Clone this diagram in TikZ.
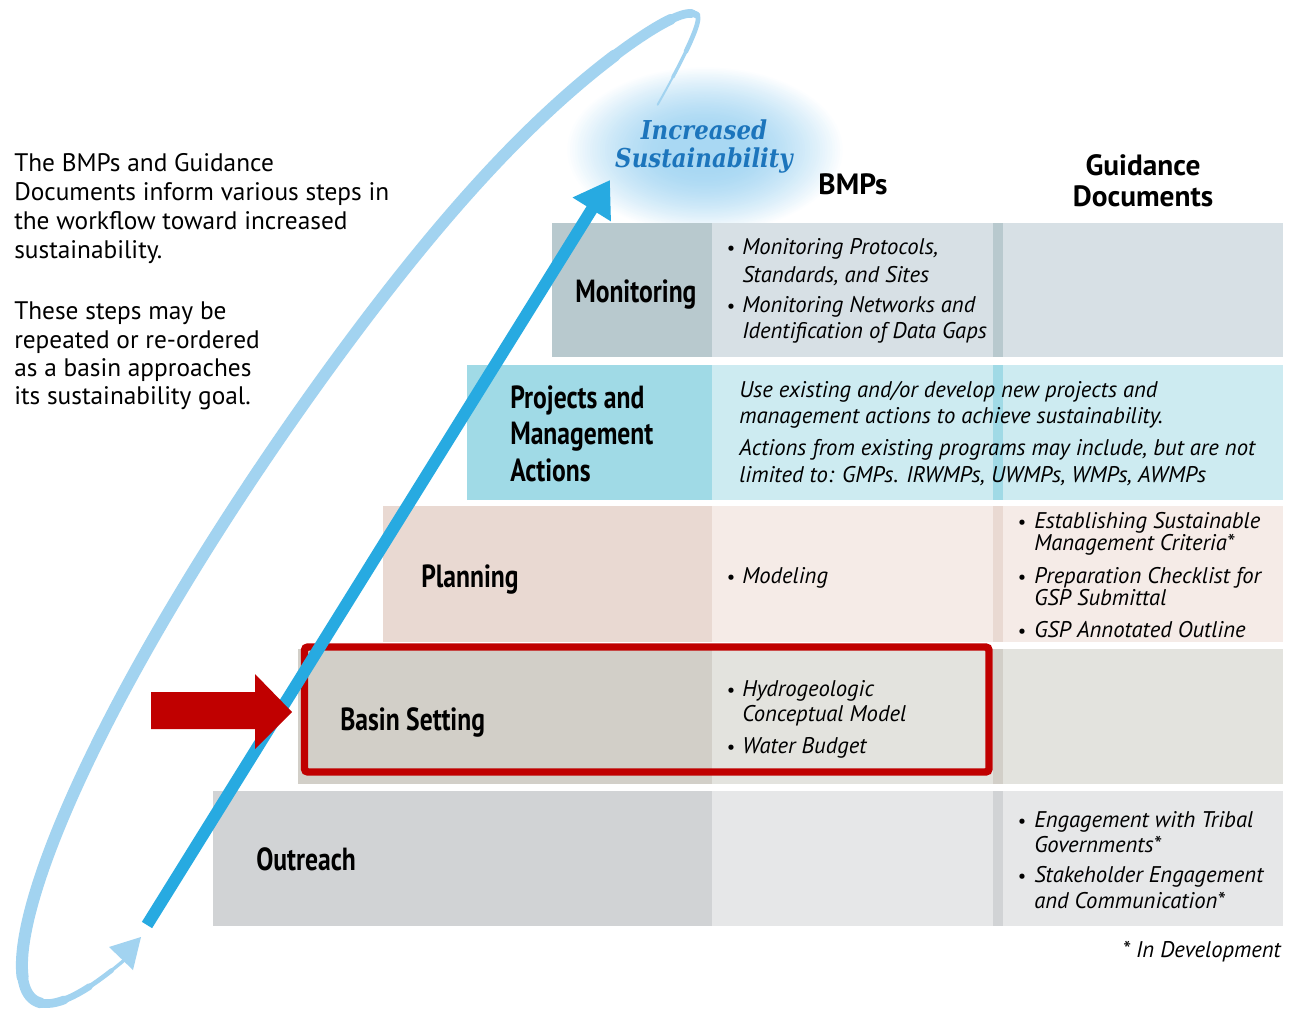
\documentclass[tikz,border=0pt]{standalone}
\usepackage{fontspec}
\setmainfont{PT Sans}
\newfontfamily\condfont[FakeStretch=0.8]{PT Sans}
\newfontfamily\titlefont[FakeStretch=0.88]{DejaVu Serif}
\usetikzlibrary{arrows.meta}
\definecolor{loopc}{HTML}{A2D3F0}
\definecolor{arrowc}{HTML}{27AAE1}
\definecolor{glowc}{HTML}{A9D8F3}
\definecolor{redc}{HTML}{C00000}
\definecolor{titlec}{HTML}{1C75BC}
\definecolor{monL}{HTML}{B8C9CE}
\definecolor{monR}{HTML}{D7E0E5}
\definecolor{proL}{HTML}{A0DAE6}
\definecolor{proR}{HTML}{CDEBF1}
\definecolor{plaL}{HTML}{E9D9D2}
\definecolor{plaR}{HTML}{F5EBE7}
\definecolor{basL}{HTML}{D2CFC8}
\definecolor{basR}{HTML}{E3E3DE}
\definecolor{outL}{HTML}{D1D3D5}
\definecolor{outR}{HTML}{E6E7E8}
\begin{document}
\begin{tikzpicture}[x=0.75pt,y=-0.75pt,
  declare function={
    cpos(\t)=max(cos(\t),0);
    cneg(\t)=max(-cos(\t),0);
    bleft(\t)=106*(1-0.3*cpos(\t)*cpos(\t)*cpos(\t)*cpos(\t)*cpos(\t));
    loopx(\t)=361+596*cos(\t)*0.5637+bleft(\t)*sin(\t)*0.8262+9*cneg(\t)*cneg(\t)*cneg(\t);
    loopy(\t)=507.6-596*cos(\t)*0.8262+bleft(\t)*sin(\t)*0.5637;
    topx(\t)=361+596*cos(\t)*0.5637+33*sin(\t)*0.8262;
    topy(\t)=507.6-596*cos(\t)*0.8262+33*sin(\t)*0.5637;},
  para/.style={anchor=base west, inner sep=0pt, font=\fontsize{19}{23}\selectfont},
  cell/.style={anchor=base west, inner sep=0pt, font=\fontsize{17}{20}\selectfont\itshape},
  bul/.style={anchor=base, inner sep=0pt, font=\fontsize{14}{18}\selectfont},
  lab/.style={anchor=base west, inner sep=0pt, font=\condfont\bfseries\fontsize{24}{28}\selectfont},
  hdr/.style={anchor=base, inner sep=0pt, font=\bfseries\fontsize{22}{26}\selectfont},
  ttl/.style={anchor=base, inner sep=0pt, text=titlec, font=\titlefont\bfseries\itshape\fontsize{19.5}{23}\selectfont},
  loopline/.style={draw=loopc, line cap=round, line join=round}]
\useasboundingbox (0,0) rectangle (1295,1009);
\fill[white] (0,0) rectangle (1295,1009);
% glow
\foreach \k in {40,39,...,0}{
  \pgfmathsetmacro\tt{\k/40}
  \pgfmathtruncatemacro\pc{100*(1-\tt*sqrt(\tt))}
  \fill[glowc!\pc!white] (705,150) ellipse [x radius={40+100*\tt}, y radius={22+62*\tt}];
}
% loop: elliptical return path, tapered by stacked strokes
\path[loopline, line width=2.5pt] plot[domain=148:360, samples=120, variable=\t] ({loopx(\t)},{loopy(\t)});
\path[loopline, line width=1.5pt] plot[domain=360:393, samples=30, variable=\t] ({topx(\t)},{topy(\t)});
\path[loopline, line width=3.5pt] plot[domain=152:360, samples=120, variable=\t] ({loopx(\t)},{loopy(\t)});
\path[loopline, line width=2.5pt] plot[domain=360:387, samples=30, variable=\t] ({topx(\t)},{topy(\t)});
\path[loopline, line width=5pt] plot[domain=158:360, samples=120, variable=\t] ({loopx(\t)},{loopy(\t)});
\path[loopline, line width=3.5pt] plot[domain=360:380, samples=30, variable=\t] ({topx(\t)},{topy(\t)});
\path[loopline, line width=6.5pt] plot[domain=166:356, samples=120, variable=\t] ({loopx(\t)},{loopy(\t)});
\path[loopline, line width=8pt] plot[domain=176:346, samples=120, variable=\t] ({loopx(\t)},{loopy(\t)});
\path[loopline, line width=9pt] plot[domain=192:330, samples=120, variable=\t] ({loopx(\t)},{loopy(\t)});
\fill[loopc] (109,947) -- (141,937) -- (133,970) -- cycle;
% rows
\fill[monL] (552,223) rectangle (712,357);
\fill[monR] (712,223) rectangle (1283,357);
\fill[monL] (993,223) rectangle (1003,357);
\fill[proL] (467,365) rectangle (712,500);
\fill[proR] (712,365) rectangle (1283,500);
\fill[proL] (993,365) rectangle (1003,500);
\fill[plaL] (383,506) rectangle (712,642);
\fill[plaR] (712,506) rectangle (1283,642);
\fill[plaL] (993,506) rectangle (1003,642);
\fill[basL] (298,649) rectangle (712,784);
\fill[basR] (712,649) rectangle (1283,784);
\fill[basL] (993,649) rectangle (1003,784);
\fill[outL] (213,791) rectangle (712,926);
\fill[outR] (712,791) rectangle (1283,926);
\fill[outL] (993,791) rectangle (1003,926);
% red box
\draw[redc, line width=5.6pt, rounded corners=2.5pt] (304.5,647) rectangle (989,772);
% blue arrow
\coordinate (up0) at (147,925);
\coordinate (up1) at (610,180);
\draw[arrowc, line width=9pt, -{Triangle[length=26pt,width=32pt]}] (up0) -- (up1);
% red arrow
\fill[redc] (151,692) -- (255,692) -- (255,674) -- (292,712) -- (255,749) -- (255,729) -- (151,729) -- cycle;
% left text
\node[para] (p1) at (14,172) {The BMPs and Guidance};
\node[para] (p2) at (14,201) {Documents inform various steps in};
\node[para] (p3) at (14,230) {the workflow toward increased};
\node[para] (p4) at (14,258) {sustainability.};
\node[para] (p5) at (14,320) {These steps may be};
\node[para] (p6) at (14,348) {repeated or re-ordered};
\node[para] (p7) at (14,376) {as a basin approaches};
\node[para] (p8) at (14,404) {its sustainability goal.};
% title
\node[ttl] (i1) at (704,140) {Increased};
\node[ttl] (i2) at (704,168) {Sustainability};
% headers
\node[hdr] (h1) at (853,195) {BMPs};
\node[hdr] (h2) at (1143,176) {Guidance};
\node[hdr] (h3) at (1143,207) {Documents};
% labels
\node[lab] (l1) at (575,302) {Monitoring};
\node[lab] (l2) at (510,408) {Projects and};
\node[lab] (l3) at (510,444) {Management};
\node[lab] (l4) at (510,481) {Actions};
\node[lab] (l5) at (421,587) {Planning};
\node[lab] (l6) at (340,730) {Basin Setting};
\node[lab] (l7) at (256,870) {Outreach};
% monitoring
\node[bul] (b1) at (731,255) {•};
\node[cell] (m1) at (742,255) {Monitoring Protocols,};
\node[cell] (m2) at (742,282) {Standards, and Sites};
\node[bul] (b2) at (731,312) {•};
\node[cell] (m3) at (742,312) {Monitoring Networks and};
\node[cell] (m4) at (742,338) {Identification of Data Gaps};
% projects
\node[cell] (q1) at (739,397) {Use existing and/or develop new projects and};
\node[cell] (q2) at (739,423) {management actions to achieve sustainability.};
\node[cell] (q3) at (739,455) {Actions from existing programs may include, but are not};
\node[cell] (q4) at (739,482) {limited to: GMPs. IRWMPs, UWMPs, WMPs, AWMPs};
% planning
\node[bul] (b3) at (731,583) {•};
\node[cell] (r1) at (742,583) {Modeling};
\node[bul] (b4) at (1022,528) {•};
\node[cell] (g1) at (1034,528) {Establishing Sustainable};
\node[cell] (g2) at (1034,550) {Management Criteria*};
\node[bul] (b5) at (1022,583) {•};
\node[cell] (g3) at (1034,583) {Preparation Checklist for};
\node[cell] (g4) at (1034,605) {GSP Submittal};
\node[bul] (b6) at (1022,637) {•};
\node[cell] (g5) at (1034,637) {GSP Annotated Outline};
% basin
\node[bul] (b7) at (731,696) {•};
\node[cell] (s1) at (742,696) {Hydrogeologic};
\node[cell] (s2) at (742,721) {Conceptual Model};
\node[bul] (b8) at (731,753) {•};
\node[cell] (s3) at (742,753) {Water Budget};
% outreach
\node[bul] (b9) at (1022,827) {•};
\node[cell] (o1) at (1034,827) {Engagement with Tribal};
\node[cell] (o2) at (1034,852) {Governments*};
\node[bul] (b10) at (1022,882) {•};
\node[cell] (o3) at (1034,882) {Stakeholder Engagement};
\node[cell] (o4) at (1034,908) {and Communication*};
% footnote
\node[cell, anchor=base east] (f1) at (1281,957) {* In Development};
\end{tikzpicture}
\end{document}
